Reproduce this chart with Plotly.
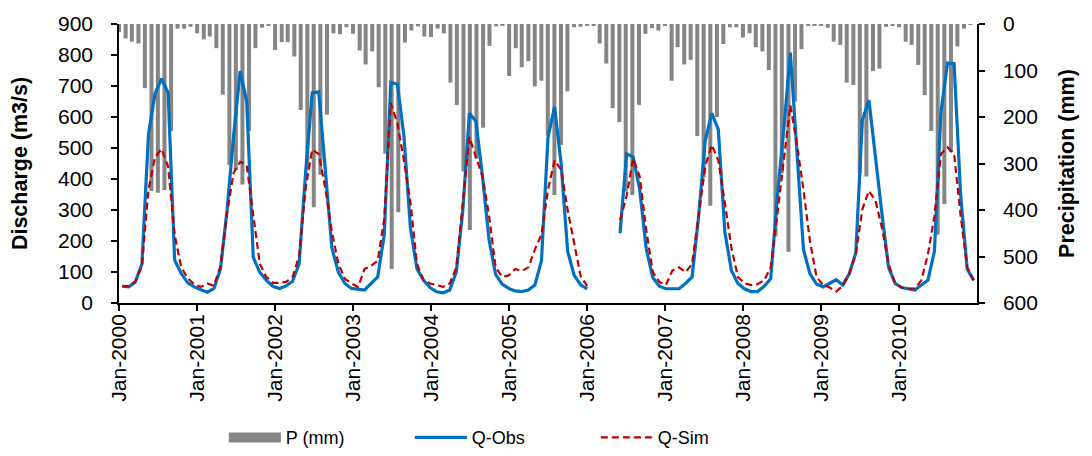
import plotly.graph_objects as go
import pandas as pd

# ---------------- data ----------------
months = pd.date_range("2000-01-01", "2010-12-01", freq="MS")   # precipitation months

precip_mm = [
    17, 31, 38, 42, 138, 359, 363, 357, 230, 10, 10, 6,
    20, 33, 27, 52, 152, 303, 314, 345, 230, 52, 8, 3,
    56, 39, 39, 70, 185, 314, 394, 324, 195, 20, 22, 7,
    21, 57, 87, 59, 136, 279, 527, 405, 40, 14, 5, 27,
    28, 10, 20, 126, 174, 317, 443, 290, 223, 47, 5, 3,
    112, 52, 93, 80, 134, 122, 240, 368, 260, 145, 7, 6,
    3, 3, 42, 85, 181, 211, 361, 368, 174, 21, 9, 14,
    3, 122, 50, 87, 77, 241, 330, 391, 200, 43, 7, 7,
    29, 20, 50, 59, 99, 457, 321, 490, 167, 54, 3, 3,
    3, 8, 38, 45, 126, 131, 321, 328, 101, 96, 6, 3,
    7, 38, 45, 88, 153, 230, 453, 387, 276, 48, 10, 2,
]

# discharge series (131 time steps, drawn on their own category scale)
q_obs = [
    54, 52, 68, 126, 544, 675, 724, 678, 138, 95, 65, 52,
    43, 35, 47, 110, 300, 540, 748, 649, 147, 99, 73, 54,
    47, 55, 70, 126, 424, 678, 681, 420, 178, 99, 63, 47,
    44, 42, 63, 84, 220, 712, 706, 540, 240, 110, 73, 50,
    36, 33, 42, 100, 300, 612, 586, 408, 204, 92, 61, 47,
    39, 37, 42, 58, 136, 534, 633, 450, 167, 89, 58, 46,
    None, None, None, None, 225, 481, 471, 366, 175, 82, 54, 46,
    46, 46, 63, 84, 280, 523, 612, 560, 230, 105, 63, 46,
    37, 37, 54, 78, 340, 560, 808, 470, 173, 94, 61, 52,
    63, 75, 58, 94, 162, 591, 654, 466, 286, 115, 63, 50,
    46, 42, 58, 73, 167, 617, 774, 772, 350, 110, 73,
]
q_sim = [
    54, 54, 70, 120, 366, 470, 497, 440, 220, 115, 80, 60,
    52, 63, 55, 120, 290, 420, 455, 445, 283, 126, 84, 65,
    65, 68, 84, 152, 370, 495, 480, 370, 230, 126, 78, 63,
    52, 110, 120, 136, 272, 645, 580, 460, 324, 126, 73, 63,
    58, 52, 63, 115, 324, 535, 471, 408, 283, 115, 84, 89,
    110, 103, 115, 173, 220, 366, 460, 430, 300, 190, 85, 55,
    None, None, None, None, 267, 345, 466, 408, 235, 100, 68, 58,
    105, 115, 99, 126, 283, 440, 510, 460, 324, 178, 84, 63,
    58, 61, 73, 115, 283, 460, 638, 513, 366, 199, 84, 58,
    50, 37, 55, 95, 160, 303, 362, 330, 241, 126, 63, 50,
    46, 47, 73, 157, 280, 481, 502, 481, 283, 115, 73,
]
steps = list(range(len(q_obs)))

year_ticks = pd.date_range("2000-01-01", "2010-01-01", freq="YS")

# ---------------- figure ----------------
FONT = "Liberation Sans, Arial, sans-serif"
BAR_GREY = "#858585"
fig = go.Figure()

fig.add_trace(go.Bar(
    x=months, y=precip_mm, name="P (mm)", showlegend=False, legendgroup="p",
    marker=dict(color=BAR_GREY, line=dict(width=0)),
    xaxis="x", yaxis="y",
))
# legend swatch for the precipitation bars (wide grey block, as in the original legend)
fig.add_trace(go.Scatter(
    x=[None], y=[None], name="P (mm)", mode="lines", legendgroup="p",
    line=dict(color=BAR_GREY, width=14),
    xaxis="x2", yaxis="y2",
))
fig.add_trace(go.Scatter(
    x=steps, y=q_obs, name="Q-Obs", mode="lines",
    line=dict(color="#0070C0", width=3.2),
    xaxis="x2", yaxis="y2",
))
fig.add_trace(go.Scatter(
    x=steps, y=q_sim, name="Q-Sim", mode="lines",
    line=dict(color="#C00000", width=2.2, dash="7px,4px"),
    xaxis="x2", yaxis="y2",
))

axis_common = dict(
    showgrid=False, zeroline=False, showline=True, linecolor="black", linewidth=1.5,
    ticks="outside", ticklen=6, tickwidth=1.5, tickcolor="black",
    tickfont=dict(family=FONT, size=21, color="black"),
)
title_font = dict(family=FONT, size=21.5, color="black", weight="bold")

fig.update_layout(
    width=1092, height=456,
    margin=dict(l=119, r=115, t=17, b=153),
    paper_bgcolor="white", plot_bgcolor="white",
    bargap=0.33,
    showlegend=True,
    legend=dict(
        orientation="h", xref="container", yref="container",
        x=0.205, y=0.04, xanchor="left", yanchor="middle",
        font=dict(family=FONT, size=18, color="black"),
        itemwidth=52, entrywidth=119, entrywidthmode="pixels",
        bgcolor="rgba(0,0,0,0)",
    ),
    xaxis=dict(
        **axis_common,
        type="date",
        range=["2000-01-01", "2011-01-01"],
        tickvals=list(year_ticks), tickformat="%b-%Y", tickangle=-90,
        ticklabelstandoff=-5,
    ),
    xaxis2=dict(
        overlaying="x", visible=False, range=[-0.5, len(q_obs) - 0.5],
        showgrid=False, zeroline=False,
    ),
    yaxis=dict(
        **axis_common,
        side="right", range=[600, 0], dtick=100,
        ticklabelstandoff=14,
        title=dict(text="Precipitation (mm)", standoff=22, font=title_font),
    ),
    yaxis2=dict(
        **axis_common,
        overlaying="y", side="left", anchor="x", range=[0, 900], dtick=100,
        ticklabelstandoff=14,
        title=dict(text="Discharge (m3/s)", standoff=24, font=title_font),
    ),
)

fig.write_html("out.html")
